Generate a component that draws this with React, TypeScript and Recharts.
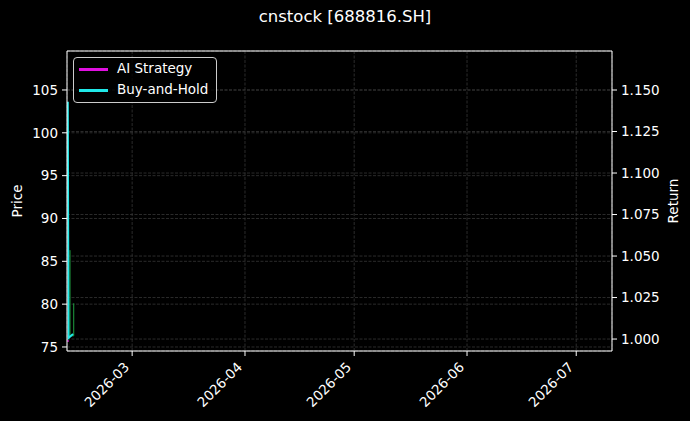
import React from 'react';
import { ComposedChart, Line, XAxis, YAxis, CartesianGrid, ReferenceLine } from 'recharts';

const DAY = 86400000;
const T_START = Date.UTC(2026, 1, 11) + 0.1 * DAY;
const T_END = Date.UTC(2026, 6, 10) + 0.83 * DAY;

const monthTicks = [
  Date.UTC(2026, 2, 1),
  Date.UTC(2026, 3, 1),
  Date.UTC(2026, 4, 1),
  Date.UTC(2026, 5, 1),
  Date.UTC(2026, 6, 1),
];
const monthLabels = ['2026-03', '2026-04', '2026-05', '2026-06', '2026-07'];

const priceTicks = [75, 80, 85, 90, 95, 100, 105];
const returnTicks = [1.0, 1.025, 1.05, 1.075, 1.1, 1.125, 1.15];
const PRICE_DOMAIN = [74.53, 109.55];
const RETURN_DOMAIN = [0.9928, 1.1735];

// days after T_START
const bhDays = [0.22, 0.41, 1.65];
const bhValues = [1.143, 1.0006, 1.003];
const aiDays = [0.1, 0.45];
const aiValues = [0.9988, 0.9988];
const priceDays = [0.82, 0.82, 1.85, 1.85];
const priceValues = [86.3, 76.3, 76.3, 80.1];

const toRows = (days: number[], vals: number[]) =>
  days.map((d, i) => ({ t: T_START + d * DAY, v: vals[i] }));

const bhData = toRows(bhDays, bhValues);
const aiData = toRows(aiDays, aiValues);
const priceData = toRows(priceDays, priceValues);

const W = 690;
const H = 421;
const PL = 67;
const PR = 612;
const PT = 51;
const PB = 351;
const FONT = 'DejaVu Sans';
const AI_COLOR = '#e010e0';
const BH_COLOR = '#20e8e8';
const PRICE_COLOR = '#1fa040';
const GRID = '#363636';

const XTick = (props: any) => {
  const { x, payload } = props;
  const idx = monthTicks.indexOf(payload.value);
  const label = idx >= 0 ? monthLabels[idx] : '';
  return (
    <text
      transform={`translate(${x - 2},${PB + 17}) rotate(-45)`}
      textAnchor="end"
      fill="#ffffff"
      fontSize={13.5}
      fontFamily={FONT}
    >
      {label}
    </text>
  );
};

export default function App() {
  return (
    <div style={{ position: 'fixed', left: 0, top: 0, width: W, height: H, background: '#000', fontFamily: FONT }}>
      <ComposedChart width={W} height={H} margin={{ top: PT, right: 0, bottom: 0, left: 0 }}>
        <CartesianGrid yAxisId="left" stroke={GRID} strokeDasharray="3 1.5" strokeWidth={0.8} vertical={true} horizontal={true} />
        <CartesianGrid yAxisId="right" stroke={GRID} strokeDasharray="3 1.5" strokeWidth={0.8} vertical={false} horizontal={true} />
        <XAxis
          dataKey="t"
          type="number"
          domain={[T_START, T_END]}
          ticks={monthTicks}
          allowDataOverflow
          height={H - PB}
          stroke="#ffffff"
          tickSize={5}
          tick={<XTick />}
          interval={0}
        />
        <YAxis
          yAxisId="left"
          orientation="left"
          width={PL}
          domain={PRICE_DOMAIN}
          ticks={priceTicks}
          allowDataOverflow
          stroke="#ffffff"
          tickSize={5}
          tickMargin={4}
          interval={0}
          tick={{ fill: '#ffffff', fontSize: 13.5, fontFamily: FONT }}
        />
        <YAxis
          yAxisId="right"
          orientation="right"
          width={W - PR}
          domain={RETURN_DOMAIN}
          ticks={returnTicks}
          allowDataOverflow
          stroke="#ffffff"
          tickSize={5}
          tickMargin={4}
          interval={0}
          tickFormatter={(v: number) => v.toFixed(3)}
          tick={{ fill: '#ffffff', fontSize: 13.5, fontFamily: FONT }}
        />
        <ReferenceLine yAxisId="left" y={PRICE_DOMAIN[1]} stroke="#ffffff" strokeWidth={1} />
        <Line
          yAxisId="left"
          data={priceData}
          dataKey="v"
          stroke={PRICE_COLOR}
          strokeWidth={1}
          dot={false}
          isAnimationActive={false}
        />
        <Line
          yAxisId="right"
          data={aiData}
          dataKey="v"
          stroke={AI_COLOR}
          strokeWidth={2}
          dot={false}
          isAnimationActive={false}
        />
        <Line
          yAxisId="right"
          data={bhData}
          dataKey="v"
          stroke={BH_COLOR}
          strokeWidth={2}
          dot={false}
          isAnimationActive={false}
        />
      </ComposedChart>

      <div style={{ position: 'absolute', left: 0, top: 7, width: W, textAlign: 'center', color: '#fff', fontSize: 16.5, fontFamily: FONT }}>
        cnstock [688816.SH]
      </div>
      <div style={{ position: 'absolute', left: 17, top: (PT + PB) / 2, color: '#fff', fontSize: 13.5, fontFamily: FONT, transform: 'translate(-50%,-50%) rotate(-90deg)', whiteSpace: 'nowrap' }}>
        Price
      </div>
      <div style={{ position: 'absolute', left: 673, top: (PT + PB) / 2, color: '#fff', fontSize: 13.5, fontFamily: FONT, transform: 'translate(-50%,-50%) rotate(-90deg)', whiteSpace: 'nowrap' }}>
        Return
      </div>

      <div style={{ position: 'absolute', left: 73, top: 57, width: 144, height: 46, boxSizing: 'border-box', border: '1px solid #cccccc', borderRadius: 4, background: 'rgba(0,0,0,0.8)' }}>
        <div style={{ position: 'absolute', left: 5, top: 10, width: 29, height: 2.5, background: AI_COLOR }} />
        <div style={{ position: 'absolute', left: 43, top: 2, color: '#fff', fontSize: 13.5, fontFamily: FONT, whiteSpace: 'nowrap' }}>AI Strategy</div>
        <div style={{ position: 'absolute', left: 5, top: 31, width: 29, height: 2.5, background: BH_COLOR }} />
        <div style={{ position: 'absolute', left: 43, top: 23, color: '#fff', fontSize: 13.5, fontFamily: FONT, whiteSpace: 'nowrap' }}>Buy-and-Hold</div>
      </div>
    </div>
  );
}
